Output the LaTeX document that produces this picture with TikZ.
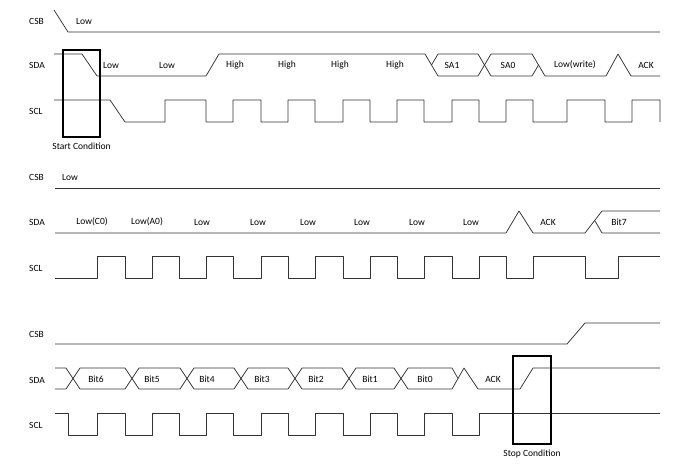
\documentclass[tikz,border=0pt]{standalone}
\usepackage{fontspec}
\setmainfont{Carlito}
\usetikzlibrary{positioning}
\tikzstyle{wire} = [draw, black!80, line width=0.75pt, line join=round]
\tikzstyle{sig} = [anchor=west, inner sep=0pt, text=black, font=\fontsize{9.5}{11}\selectfont]
\tikzstyle{lbl} = [inner sep=0pt, text=black, font=\fontsize{9.5}{11}\selectfont]
\tikzstyle{cond} = [draw, rectangle, line width=1.3pt, inner sep=0pt, minimum width=37pt, minimum height=87pt]

\begin{document}
\begin{tikzpicture}[x=1pt, y=-1pt]
	\useasboundingbox (0,0) rectangle (700,470);

	% first block: start condition and slave address
	\node[sig] (csbA) at ( 29, 21 ) {CSB};
	\node[sig] (sdaA) at ( 29, 65 ) {SDA};
	\node[sig] (sclA) at ( 29, 111 ) {SCL};

	\draw[wire] (54,10) -- (68,32) -- (660,32);
	\node[lbl] (csbAlow) at ( 84, 21 ) {Low};

	\draw[wire] (54,54) -- (82,54) -- (97,76) -- (206,76) -- (219,54) -- (425,54) -- (438,76) -- (478,76) -- (491,54) -- (532,54) -- (545,76) -- (606,76) -- (618,54) -- (631,76) -- (660,76);
	\draw[wire] (431.5,65) -- (438,54) -- (478,54) -- (491,76) -- (532,76) -- (538.5,65);
	\node[lbl] (aLow1) at ( 111, 65 ) {Low};
	\node[lbl] (aLow2) at ( 167, 65 ) {Low};
	\node[lbl] (aHigh1) at ( 235, 65 ) {High};
	\node[lbl] (aHigh2) at ( 287, 65 ) {High};
	\node[lbl] (aHigh3) at ( 340, 65 ) {High};
	\node[lbl] (aHigh4) at ( 395, 65 ) {High};
	\node[lbl] (aSA1) at ( 452, 65 ) {SA1};
	\node[lbl] (aSA0) at ( 508, 65 ) {SA0};
	\node[lbl] (aWrite) at ( 575, 65 ) {Low(write)};
	\node[lbl] (aAck) at ( 646, 65 ) {ACK};

	\draw[wire] (54,100) -- (110,100) -- (125,122) -- (165,122) -- (165,100) -- (206,100) -- (206,122) -- (233,122) -- (233,100) -- (261,100) -- (261,122) -- (288,122) -- (288,100) -- (315,100) -- (315,122) -- (343,122) -- (343,100) -- (370,100) -- (370,122) -- (397,122) -- (397,100) -- (424,100) -- (424,122) -- (452,122) -- (452,100) -- (479,100) -- (479,122) -- (506,122) -- (506,100) -- (533,100) -- (533,122) -- (567,122) -- (567,100) -- (605,100) -- (605,122) -- (632,122) -- (632,100) -- (660,100) -- (660,122);

	\node[cond] (start) at ( 81.5, 93.5 ) {};
	\node[lbl, below=5pt of start] (startLbl) {Start Condition};

	% second block: control byte
	\node[sig] (csbB) at ( 29, 177 ) {CSB};
	\node[sig] (sdaB) at ( 29, 222 ) {SDA};
	\node[sig] (sclB) at ( 29, 268 ) {SCL};

	\draw[wire] (55,188) -- (660,188);
	\node[lbl] (csbBlow) at ( 70, 177 ) {Low};

	\draw[wire] (55,233) -- (506,233) -- (519,211) -- (533,233) -- (585,233) -- (602,211) -- (660,211);
	\draw[wire] (595,221) -- (602,233) -- (660,233);
	\node[lbl] (bC0) at ( 92, 222 ) {Low(C0)};
	\node[lbl] (bA0) at ( 147, 222 ) {Low(A0)};
	\node[lbl] (bLow1) at ( 202, 222 ) {Low};
	\node[lbl] (bLow2) at ( 258, 222 ) {Low};
	\node[lbl] (bLow3) at ( 308, 222 ) {Low};
	\node[lbl] (bLow4) at ( 362, 222 ) {Low};
	\node[lbl] (bLow5) at ( 417, 222 ) {Low};
	\node[lbl] (bLow6) at ( 471, 222 ) {Low};
	\node[lbl] (bAck) at ( 548, 222 ) {ACK};
	\node[lbl] (bBit7) at ( 619, 222 ) {Bit7};

	\draw[wire] (55,278) -- (97,278) -- (97,256) -- (125,256) -- (125,278) -- (152,278) -- (152,256) -- (179,256) -- (179,278) -- (206,278) -- (206,256) -- (233,256) -- (233,278) -- (261,278) -- (261,256) -- (288,256) -- (288,278) -- (315,278) -- (315,256) -- (343,256) -- (343,278) -- (370,278) -- (370,256) -- (397,256) -- (397,278) -- (424,278) -- (424,256) -- (452,256) -- (452,278) -- (479,278) -- (479,256) -- (506,256) -- (506,278) -- (533,278) -- (533,256) -- (585,256) -- (585,278) -- (618,278) -- (618,256) -- (660,256);

	% third block: data byte and stop condition
	\node[sig] (csbC) at ( 29, 334 ) {CSB};
	\node[sig] (sdaC) at ( 29, 380 ) {SDA};
	\node[sig] (sclC) at ( 29, 425 ) {SCL};

	\draw[wire] (55,344) -- (567,344) -- (585,323) -- (660,323);

	\draw[wire] (55,368) -- (66,368) -- (80,389) -- (125,389) -- (139,368) -- (180,368) -- (194,389) -- (234,389) -- (248,368) -- (288,368) -- (302,389) -- (342,389) -- (356,368) -- (394,368) -- (408,389) -- (452,389) -- (464,368) -- (478,389) -- (520,389) -- (533,368) -- (660,368);
	\draw[wire] (55,389) -- (66,389) -- (80,368) -- (125,368) -- (139,389) -- (180,389) -- (194,368) -- (234,368) -- (248,389) -- (288,389) -- (302,368) -- (342,368) -- (356,389) -- (394,389) -- (408,368) -- (452,368) -- (458,378.5);
	\node[lbl] (cBit6) at ( 96, 379 ) {Bit6};
	\node[lbl] (cBit5) at ( 152, 379 ) {Bit5};
	\node[lbl] (cBit4) at ( 207, 379 ) {Bit4};
	\node[lbl] (cBit3) at ( 262, 379 ) {Bit3};
	\node[lbl] (cBit2) at ( 316, 379 ) {Bit2};
	\node[lbl] (cBit1) at ( 370, 379 ) {Bit1};
	\node[lbl] (cBit0) at ( 425, 379 ) {Bit0};
	\node[lbl] (cAck) at ( 493, 379 ) {ACK};

	\draw[wire] (55,413) -- (68,413) -- (68,435) -- (97,435) -- (97,413) -- (125,413) -- (125,435) -- (152,435) -- (152,413) -- (179,413) -- (179,435) -- (206,435) -- (206,413) -- (233,413) -- (233,435) -- (261,435) -- (261,413) -- (288,413) -- (288,435) -- (315,435) -- (315,413) -- (343,413) -- (343,435) -- (370,435) -- (370,413) -- (397,413) -- (397,435) -- (424,435) -- (424,413) -- (452,413) -- (452,435) -- (479,435) -- (479,413) -- (660,413);

	\node[cond, minimum width=38pt, minimum height=88pt] (stop) at ( 532, 400 ) {};
	\node[lbl, below=5pt of stop] (stopLbl) {Stop Condition};
\end{tikzpicture}
\end{document}
